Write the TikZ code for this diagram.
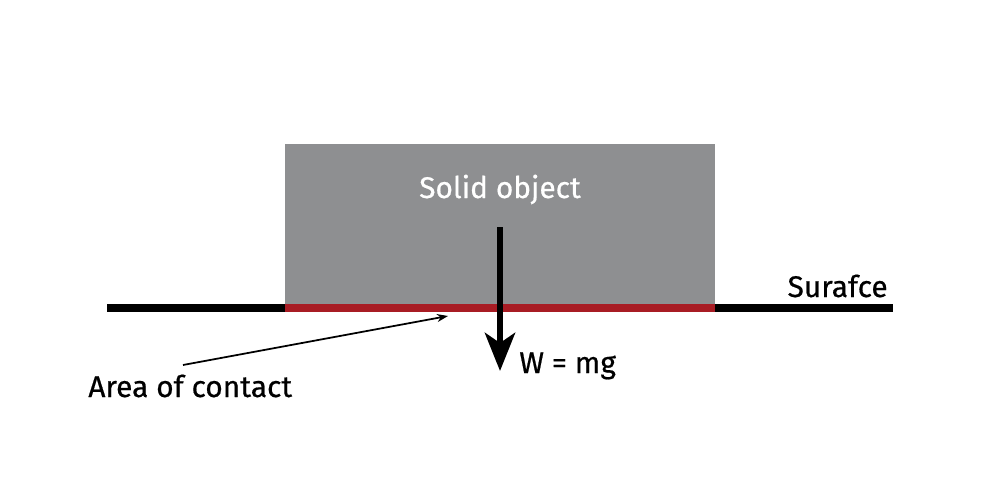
\documentclass[tikz,border=0pt]{standalone}
\usepackage{fontspec}
\setmainfont{Fira Sans}
\newfontfamily\lblfont{Fira Sans}[FakeBold=0.6]
\usetikzlibrary{arrows.meta}
\definecolor{objgray}{HTML}{8E8F91}
\definecolor{contactred}{HTML}{A81C24}
\tikzset{
  lbl/.style={font=\lblfont\fontsize{17}{20}\selectfont, inner sep=0pt, anchor=base west},
  objbox/.style={fill=objgray, draw=none, inner sep=0pt},
  surfline/.style={line width=0.16cm, black},
  contactline/.style={line width=0.16cm, contactred},
  force/.style={line width=0.135cm, -{Stealth[length=0.76cm, width=0.6cm, inset=0.2cm]}},
  pointer/.style={line width=0.035cm, -{Stealth[length=0.22cm, width=0.16cm]}}
}
\begin{document}
\begin{tikzpicture}[x=0.02cm, y=-0.02cm]
\useasboundingbox (0,0) rectangle (1000,500);
% solid object
\node[objbox, minimum width=8.6cm, minimum height=3.26cm, anchor=north west] (obj) at (285,144) {};
\node[lbl, anchor=base, text=white] (objlbl) at (500,198) {Solid object};
% surface
\coordinate (sL) at (107,308);
\coordinate (sR) at (893,308);
\coordinate (cL) at (285,308);
\coordinate (cR) at (715,308);
\draw[surfline] (sL) -- (sR);
\draw[contactline] (cL) -- (cR);
\node[lbl, anchor=base east] (surf) at (888,297) {Surafce};
% weight
\coordinate (wTop) at (500,227);
\coordinate (wTip) at (500,371);
\draw[force] (wTop) -- (wTip);
\node[lbl] (wlbl) at (519,373) {W = mg};
% area of contact
\node[lbl] (area) at (88,397) {Area of contact};
\coordinate (aStart) at (183,365);
\coordinate (aEnd) at (448,316);
\draw[pointer] (aStart) -- (aEnd);
\end{tikzpicture}
\end{document}
